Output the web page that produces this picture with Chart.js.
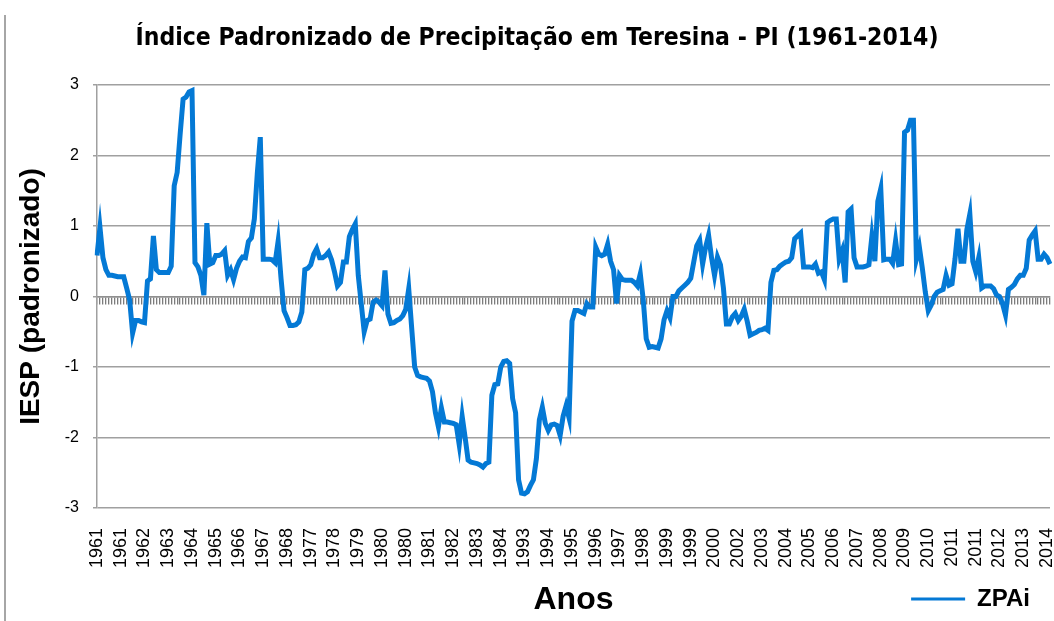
<!DOCTYPE html>
<html><head><meta charset="utf-8">
<script src="https://cdn.jsdelivr.net/npm/chart.js@4"></script>
<style>
html,body{margin:0;padding:0;background:#fff;}
#wrap{position:relative;width:1054px;height:621px;}
#edge{position:absolute;left:4px;top:15px;width:2px;height:606px;background:#a6a6a6;}
canvas{position:absolute;left:0;top:0;}
</style></head><body>
<div id="wrap"><canvas id="c" width="1054" height="621"></canvas><div id="edge"></div></div>
<script>
// Tick labels shown along the x axis (one every 8 points)
const tickLabels = ['1961','1961','1962','1963','1964','1965','1966','1967','1968','1977','1978','1979','1980','1980','1981','1982','1983','1984','1993','1994','1995','1996','1997','1998','1999','1999','2000','2002','2003','2004','2005','2006','2007','2008','2009','2010','2011','2011','2012','2013','2014'];

// ZPAi series, in four segments
const zpaiA = [0.58,0.98,0.55,0.38,0.30,0.30,0.29,0.28,0.28,0.28,0.12,-0.05,-0.52,-0.34,-0.34,-0.36,-0.37,0.22,0.25,0.86,
  0.38,0.34,0.34,0.34,0.34,0.43,1.57,1.76,2.30,2.80,2.83,2.90,2.92,0.48,0.42,0.30,0.02,1.04,0.46,0.48,
  0.58,0.58,0.60,0.65,0.30,0.38,0.24,0.40,0.50,0.56,0.55,0.78,0.83,1.10,1.75,2.26,0.53,0.53,0.53,0.52,
  0.48,0.78,0.25,-0.20,-0.30,-0.41,-0.41,-0.40,-0.36,-0.22,0.38,0.40,0.45,0.60,0.68,0.55,0.55,0.58,0.63,0.52];
const zpaiB = [0.35,0.15,0.20,0.49,0.49,0.85,0.95,1.03,0.30,-0.10,-0.50,-0.34,-0.32,-0.08,-0.05,-0.08,-0.13,0.37,-0.25,-0.38,
  -0.37,-0.34,-0.32,-0.27,-0.18,0.11,-0.45,-1.00,-1.12,-1.14,-1.15,-1.16,-1.20,-1.35,-1.65,-1.85,-1.58,-1.78,-1.78,-1.79,
  -1.80,-1.82,-2.10,-1.70,-2.00,-2.32,-2.35,-2.36,-2.37,-2.39,-2.42,-2.37,-2.35,-1.40,-1.25,-1.24,-1.00,-0.92,-0.91,-0.95,
  -1.45,-1.65,-2.60,-2.79,-2.80,-2.77,-2.68,-2.60,-2.30,-1.75,-1.57,-1.80,-1.90,-1.82,-1.81,-1.83,-1.97,-1.70,-1.55,-1.72];
const zpaiC = [-0.35,-0.20,-0.20,-0.22,-0.24,-0.10,-0.15,-0.15,0.70,0.60,0.58,0.60,0.74,0.50,0.38,-0.10,0.30,0.24,0.23,0.23,
  0.23,0.20,0.15,0.32,-0.05,-0.60,-0.72,-0.71,-0.72,-0.73,-0.60,-0.33,-0.20,-0.30,0.00,0.00,0.08,0.12,0.16,0.20,
  0.26,0.49,0.72,0.80,0.46,0.70,0.87,0.55,0.30,0.56,0.45,0.12,-0.39,-0.39,-0.29,-0.24,-0.34,-0.28,-0.18,-0.35,
  -0.55,-0.53,-0.51,-0.48,-0.47,-0.45,-0.48,0.20,0.37,0.38,0.43,0.46,0.49,0.50,0.55,0.82,0.86,0.90,0.42,0.42];
const zpaiD = [0.42,0.41,0.46,0.33,0.35,0.24,1.05,1.08,1.10,1.10,0.53,0.65,0.20,1.20,1.24,0.55,0.42,0.42,0.42,0.43,
  0.45,0.85,0.50,1.35,1.53,0.52,0.53,0.53,0.47,0.79,0.45,0.46,2.33,2.36,2.50,2.50,0.53,0.70,0.40,0.06,
  -0.20,-0.12,0.00,0.06,0.08,0.10,0.30,0.16,0.18,0.53,0.96,0.50,0.50,0.95,1.17,0.50,0.35,0.55,0.12,0.15,
  0.15,0.15,0.11,0.02,0.00,-0.10,-0.26,0.10,0.13,0.17,0.25,0.30,0.30,0.40,0.80,0.87,0.93,0.53,0.53,0.60,
  0.55,0.46];

const zpai = zpaiA.concat(zpaiB, zpaiC, zpaiD);
const categories = zpai.map((v, i) => (i % 8 === 0 && tickLabels[i / 8]) ? tickLabels[i / 8] : '');

const BLUE = '#0479d5';
const SANS = "'Liberation Sans', Arial, sans-serif";
const NARROW = "'Liberation Sans Narrow', 'DejaVu Sans Condensed', sans-serif";

new Chart(document.getElementById('c'), {
  type: 'line',
  data: {
    labels: categories,
    datasets: [{
      label: 'ZPAi', data: zpai, borderColor: BLUE, backgroundColor: BLUE,
      borderWidth: 5, pointRadius: 0, tension: 0, fill: false
    }]
  },
  options: {
    responsive: false, animation: false,
    layout: { padding: { left: 24, right: 4, top: 0, bottom: 0 } },
    plugins: {
      title: {
        display: true, text: 'Índice Padronizado de Precipitação em Teresina - PI (1961-2014)',
        font: { family: NARROW, size: 24.5, weight: 'bold' }, color: '#000',
        padding: { top: 24, bottom: 31.6 }
      },
      legend: {
        position: 'bottom', align: 'end',
        labels: {
          usePointStyle: true, pointStyle: 'line', pointStyleWidth: 54,
          font: { family: SANS, size: 24, weight: 'bold' }, color: '#000', padding: 20,
          generateLabels: (chart) => Chart.defaults.plugins.legend.labels.generateLabels(chart).map(l => Object.assign(l, { lineWidth: 3 }))
        }
      },
      tooltip: { enabled: false }
    },
    scales: {
      x: {
        type: 'category', offset: false,
        grid: { display: false, drawTicks: false }, border: { display: false },
        ticks: { autoSkip: false, maxRotation: 90, minRotation: 90, padding: 20, font: { family: SANS, size: 18 }, color: '#000' },
        title: { display: true, text: 'Anos', font: { family: SANS, size: 32, weight: 'bold' }, color: '#000', padding: { top: 0, bottom: -52 } },
        afterFit: (s) => { s.height = 59; s.paddingRight = 0; s.paddingLeft = 0; }
      },
      x2: {
        type: 'category', position: { y: 0 }, offset: false,
        grid: { display: true, drawOnChartArea: false, drawTicks: true, tickLength: 7, color: '#7c7c7c', lineWidth: 1.3 },
        border: { display: true, color: '#909090', width: 1.5 },
        ticks: { display: false, autoSkip: false }
      },
      y: {
        min: -3, max: 3,
        ticks: { stepSize: 1, padding: 14, font: { family: SANS, size: 16 }, color: '#000' },
        grid: { color: '#a0a0a0', lineWidth: 1.5, tickLength: 4, drawTicks: true },
        border: { display: true, color: '#a0a0a0', width: 1.5 },
        title: { display: true, text: 'IESP (padronizado)', font: { family: SANS, size: 28, weight: 'bold' }, color: '#000', padding: { top: -10, bottom: 0 } },
        afterFit: (s) => { s.width = 73; }
      }
    }
  }
});
</script>
</body></html>
